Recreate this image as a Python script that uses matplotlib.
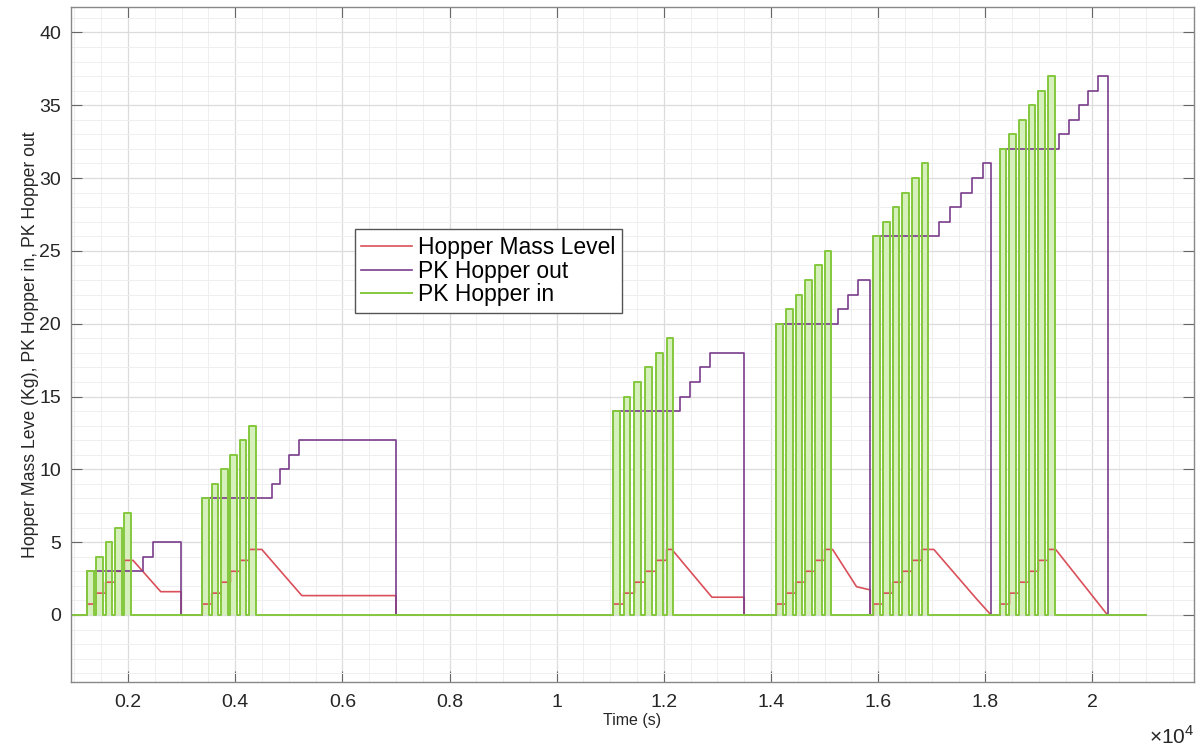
import numpy as np
import matplotlib.pyplot as plt
from matplotlib.ticker import MultipleLocator, FixedLocator

plt.rcParams['font.family'] = ['Liberation Sans', 'DejaVu Sans']
plt.rcParams['mathtext.fontset'] = 'custom'
plt.rcParams['mathtext.rm'] = 'Liberation Sans'

t_end = 21000
in_width = 125  # how long each "in" pulse stays high (s)

# PK Hopper in: pulse start times (s) and pulse heights for each filling batch
in_starts = [
    [1230, 1405, 1580, 1755, 1930],
    [3385, 3560, 3735, 3910, 4085, 4260],
    [11050, 11250, 11450, 11650, 11850, 12050],
    [14100, 14280, 14460, 14640, 14820, 15000],
    [15910, 16090, 16270, 16450, 16630, 16810],
    [18270, 18450, 18630, 18810, 18990, 19170],
]
in_heights = [
    [3, 4, 5, 6, 7],
    [8, 9, 10, 11, 12, 13],
    [14, 15, 16, 17, 18, 19],
    [20, 21, 22, 23, 24, 25],
    [26, 27, 28, 29, 30, 31],
    [32, 33, 34, 35, 36, 37],
]

# PK Hopper out: (time, value) step changes per batch, last one drops to 0
out_steps = [
    [(1230, 3), (2286, 4), (2472, 5), (2990, 0)],
    [(3385, 8), (4683, 9), (4838, 10), (5011, 11), (5198, 12), (7000, 0)],
    [(11050, 14), (12306, 15), (12479, 16), (12666, 17), (12853, 18), (13500, 0)],
    [(14100, 20), (15243, 21), (15429, 22), (15616, 23), (15853, 0)],
    [(15910, 26), (17144, 27), (17344, 28), (17544, 29), (17750, 30), (17956, 31), (18106, 0)],
    [(18270, 32), (19375, 33), (19563, 34), (19750, 35), (19925, 36), (20106, 37), (20281, 0)],
]

# Hopper mass level: level reached after each "in" pulse
mass_levels = [
    [0.75, 1.5, 2.25, 3.0, 3.75],
    [0.75, 1.5, 2.25, 3.0, 3.75, 4.5],
    [0.75, 1.5, 2.25, 3.0, 3.75, 4.5],
    [0.75, 1.5, 2.25, 3.0, 3.75, 4.5],
    [0.75, 1.5, 2.25, 3.0, 3.75, 4.5],
    [0.75, 1.5, 2.25, 3.0, 3.75, 4.5],
]
# then the level drains: (time, level) corners, ending where the batch is emptied
mass_drain = [
    [(2093, 3.75), (2610, 1.6), (2990, 1.6)],
    [(4496, 4.5), (5243, 1.33), (7000, 1.33)],
    [(12150, 4.5), (12897, 1.22), (13500, 1.22)],
    [(15150, 4.5), (15597, 1.94), (15853, 1.72)],
    [(17039, 4.5), (17844, 1.07), (18106, 0.0)],
    [(19313, 4.5), (20281, 0.0)],
]

green = '#84c83e'

# build the step traces
t_in, v_in = [0], [0]
for starts, hs in zip(in_starts, in_heights):
    for s, h in zip(starts, hs):
        t_in += [s, s, s + in_width, s + in_width]
        v_in += [0, h, h, 0]
t_in.append(t_end)
v_in.append(0)

t_out, v_out = [0], [0]
for steps in out_steps:
    for t, v in steps:
        t_out += [t, t]
        v_out += [v_out[-1], v]
t_out.append(t_end)
v_out.append(0)

t_m, v_m = [0], [0]
for starts, lv, drain in zip(in_starts, mass_levels, mass_drain):
    for s, l in zip(starts, lv):
        t_m += [s, s]
        v_m += [v_m[-1], l]
    for t, v in drain:
        t_m.append(t)
        v_m.append(v)
    t_m += [drain[-1][0]]
    v_m += [0]
t_m.append(t_end)
v_m.append(0)

fig = plt.figure(figsize=(12.01, 7.55), dpi=100)
ax = fig.add_axes([0.0589, 0.0971, 0.9355, 0.8932])

# light tint inside each "in" pulse
for starts, hs in zip(in_starts, in_heights):
    for s, h in zip(starts, hs):
        ax.fill_between([s, s + in_width], 0, h, color='#d6f0bd', lw=0, zorder=1.5)

ax.plot(t_m, v_m, color='#d9505a', lw=1.2, label='Hopper Mass Level', zorder=2)
ax.plot(t_out, v_out, color='#7a3d8c', lw=1.2, label='PK Hopper out', zorder=2)
ax.plot(t_in, v_in, color=green, lw=1.4, label='PK Hopper in', zorder=2)

ax.set_xlim(930, 21900)
ax.set_ylim(-4.58, 41.72)

xt = np.arange(2000, 20001, 2000)
ax.xaxis.set_major_locator(FixedLocator(xt))
ax.set_xticklabels(['0.2', '0.4', '0.6', '0.8', '1', '1.2', '1.4', '1.6', '1.8', '2'])
ax.xaxis.set_minor_locator(MultipleLocator(500))
ax.yaxis.set_major_locator(MultipleLocator(5))
ax.yaxis.set_minor_locator(MultipleLocator(1))

ax.grid(which='major', color='#dcdcdc', lw=0.9)
ax.grid(which='minor', color='#efefef', lw=0.7)
ax.set_axisbelow(True)

ax.tick_params(which='both', direction='in', top=True, right=True,
               labelsize=14, colors='#262626')
ax.tick_params(which='major', length=8, width=0.8, color='#666666')
ax.tick_params(which='minor', length=0)
ax.tick_params(axis='x', pad=9)
ax.tick_params(axis='y', pad=7)
for sp in ax.spines.values():
    sp.set_color('#888888')
    sp.set_linewidth(1.0)

ax.set_xlabel('Time (s)', fontsize=11.5, color='#262626', labelpad=1)
ax.set_ylabel('Hopper Mass Leve (Kg), PK Hopper in, PK Hopper out',
              fontsize=12.7, color='#262626', labelpad=0)
fig.text(0.9944, 0.009, r'$\times10^{4}$', ha='right', va='bottom',
         fontsize=15, color='#262626')

leg = ax.legend(loc='upper left', bbox_to_anchor=(0.253, 0.671),
                borderaxespad=0, fancybox=False, fontsize=16.5,
                handlelength=2.2, handletextpad=0.27, labelspacing=0.04,
                borderpad=0.28, framealpha=1)
leg.get_frame().set_edgecolor('#555555')
leg.get_frame().set_linewidth(1.0)

fig.savefig('out.png', dpi=100)
